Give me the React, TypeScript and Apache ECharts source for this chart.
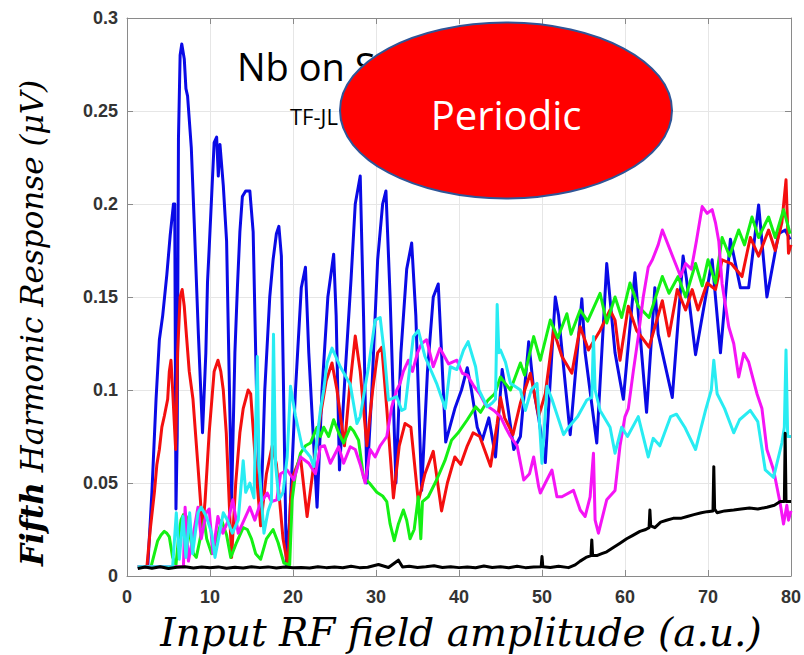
import React, { useEffect, useRef } from "react";
import * as echarts from "echarts";

const xTicks = [0, 10, 20, 30, 40, 50, 60, 70, 80];
const yTicks = [0, 0.05, 0.1, 0.15, 0.2, 0.25, 0.3];

const blueData: [number, number][] = [
  [1.3, 0.005], [2.5, 0.005], [3.0, 0.045], [3.5, 0.095], [3.9, 0.127], [4.3, 0.14], [4.8, 0.162], [5.2, 0.183], [5.6, 0.2], [5.75, 0.2], [5.9, 0.036], [6.05, 0.075], [6.2, 0.235], [6.4, 0.28], [6.6, 0.286], [6.9, 0.278], [7.1, 0.262], [7.3, 0.258], [7.75, 0.23], [8.1, 0.19], [8.6, 0.13], [9.1, 0.077], [9.5, 0.12], [9.7, 0.158], [9.9, 0.176], [10.5, 0.233], [10.8, 0.236], [11.0, 0.215], [11.2, 0.232], [11.6, 0.21], [12.0, 0.18], [12.3, 0.11], [12.6, 0.04], [13.0, 0.12], [13.3, 0.155], [13.6, 0.185], [13.9, 0.204], [14.3, 0.207], [14.8, 0.207], [15.2, 0.185], [15.6, 0.1], [16.1, 0.03], [16.6, 0.1], [17.2, 0.15], [17.6, 0.17], [18.0, 0.184], [18.3, 0.188], [18.6, 0.172], [19.2, 0.006], [19.6, 0.03], [20.3, 0.1], [21.0, 0.155], [21.5, 0.166], [21.9, 0.12], [22.9, 0.037], [23.5, 0.1], [24.2, 0.15], [24.9, 0.173], [25.2, 0.14], [25.6, 0.057], [26.3, 0.11], [27.0, 0.16], [27.5, 0.2], [28.1, 0.215], [28.5, 0.14], [28.9, 0.05], [29.5, 0.1], [30.2, 0.17], [30.8, 0.2], [31.2, 0.207], [31.7, 0.15], [32.4, 0.05], [33.0, 0.12], [33.7, 0.165], [34.3, 0.179], [34.8, 0.14], [35.5, 0.046], [36.2, 0.11], [36.9, 0.15], [37.5, 0.157], [37.9, 0.12], [38.4, 0.072], [39.5, 0.09], [40.3, 0.1], [41.0, 0.112], [41.5, 0.1], [42.2, 0.08], [42.8, 0.073], [43.6, 0.085], [44.4, 0.064], [45.2, 0.111], [45.6, 0.1], [46.6, 0.068], [47.4, 0.075], [48.4, 0.126], [49.0, 0.1], [49.6, 0.085], [50.4, 0.061], [51.6, 0.15], [52.0, 0.14], [53.4, 0.076], [54.8, 0.149], [55.2, 0.12], [56.6, 0.0715], [57.8, 0.168], [58.8, 0.12], [59.8, 0.095], [61.2, 0.163], [62.6, 0.088], [63.6, 0.155], [64.0, 0.13], [65.7, 0.096], [67.0, 0.172], [67.4, 0.16], [68.5, 0.119], [70.5, 0.17], [71.5, 0.12], [72.7, 0.181], [73.9, 0.155], [74.9, 0.155], [76.1, 0.1995], [77.1, 0.15], [78.5, 0.184], [79.3, 0.186], [79.9, 0.181],
];

const redData: [number, number][] = [
  [1.3, 0.005], [2.4, 0.005], [2.8, 0.025], [3.3, 0.045], [3.6, 0.06], [3.9, 0.068], [4.2, 0.08], [4.5, 0.086], [4.9, 0.095], [5.1, 0.11], [5.3, 0.116], [5.5, 0.1], [5.86, 0.068], [6.1, 0.12], [6.4, 0.15], [6.65, 0.154], [6.9, 0.145], [7.15, 0.13], [7.5, 0.11], [7.95, 0.095], [8.55, 0.059], [9.1, 0.025], [9.4, 0.04], [9.9, 0.077], [10.5, 0.11], [10.96, 0.116], [11.3, 0.11], [11.6, 0.1], [11.96, 0.077], [12.6, 0.01], [13.1, 0.05], [13.6, 0.077], [14.0, 0.09], [14.6, 0.1], [14.9, 0.098], [15.5, 0.06], [16.1, 0.027], [16.8, 0.055], [17.5, 0.07], [18.0, 0.06], [18.8, 0.02], [19.4, 0.005], [19.7, 0.04], [20.1, 0.055], [20.9, 0.064], [21.7, 0.032], [22.5, 0.06], [23.3, 0.086], [24.0, 0.105], [24.7, 0.1145], [25.3, 0.1], [26.2, 0.07], [26.8, 0.1], [27.5, 0.129], [28.1, 0.11], [28.9, 0.07], [29.6, 0.1], [30.2, 0.12], [30.7, 0.123], [31.3, 0.09], [32.1, 0.042], [32.8, 0.07], [33.5, 0.082], [34.2, 0.08], [35.1, 0.04], [35.9, 0.055], [36.9, 0.067], [37.9, 0.035], [38.6, 0.05], [39.5, 0.064], [40.2, 0.06], [41.0, 0.07], [41.7, 0.077], [42.5, 0.075], [43.8, 0.059], [44.6, 0.082], [45.0, 0.096], [45.5, 0.085], [46.5, 0.076], [47.4, 0.093], [48.6, 0.109], [49.6, 0.086], [50.4, 0.098], [51.4, 0.132], [52.4, 0.118], [53.6, 0.109], [54.6, 0.134], [55.6, 0.1215], [57.0, 0.132], [58.2, 0.143], [58.8, 0.1376], [59.4, 0.116], [60.4, 0.145], [61.4, 0.132], [62.9, 0.123], [64.5, 0.148], [65.3, 0.129], [66.3, 0.154], [67.3, 0.143], [68.1, 0.154], [68.8, 0.143], [69.9, 0.1575], [70.9, 0.154], [71.7, 0.17], [72.8, 0.168], [74.1, 0.161], [75.1, 0.182], [76.1, 0.172], [77.3, 0.186], [78.1, 0.175], [78.9, 0.19], [79.4, 0.213], [79.7, 0.1735], [80.0, 0.178],
];

const greenData: [number, number][] = [
  [1.3, 0.005], [2.9, 0.005], [3.3, 0.012], [3.7, 0.019], [4.1, 0.022], [4.5, 0.024], [4.8, 0.023], [5.1, 0.021], [5.5, 0.01], [5.9, 0.006], [6.2, 0.02], [6.5, 0.03], [6.8, 0.033], [7.15, 0.032], [7.7, 0.019], [8.0, 0.012], [8.35, 0.01], [8.95, 0.023], [9.3, 0.03], [9.6, 0.02], [10.2, 0.012], [10.8, 0.02], [11.4, 0.03], [12.0, 0.022], [12.5, 0.01], [13.2, 0.018], [14.0, 0.026], [14.5, 0.025], [15.0, 0.02], [15.5, 0.012], [16.1, 0.009], [16.8, 0.02], [17.6, 0.025], [18.2, 0.018], [18.9, 0.007], [19.6, 0.006], [19.9, 0.041], [20.3, 0.055], [20.9, 0.066], [21.5, 0.07], [22.1, 0.0715], [22.9, 0.08], [23.3, 0.075], [23.7, 0.08], [24.3, 0.075], [24.9, 0.084], [25.5, 0.077], [26.1, 0.0715], [26.9, 0.08], [27.3, 0.078], [27.9, 0.073], [28.5, 0.053], [29.2, 0.05], [30.1, 0.045], [30.8, 0.043], [31.3, 0.04], [31.7, 0.028], [32.2, 0.019], [32.7, 0.028], [33.3, 0.0355], [33.7, 0.03], [34.1, 0.02], [34.6, 0.025], [35.1, 0.0426], [35.4, 0.02], [35.6, 0.04], [36.3, 0.0426], [37.3, 0.0516], [38.3, 0.062], [39.1, 0.073], [39.9, 0.077], [41.0, 0.084], [42.0, 0.091], [42.6, 0.088], [43.5, 0.0946], [44.3, 0.098], [45.0, 0.107], [45.5, 0.104], [46.2, 0.1], [47.4, 0.1145], [47.9, 0.108], [49.0, 0.1287], [49.8, 0.116], [51.0, 0.1376], [51.9, 0.128], [53.0, 0.141], [53.5, 0.13], [54.6, 0.143], [55.5, 0.137], [57.0, 0.152], [57.8, 0.136], [58.8, 0.15], [59.6, 0.139], [60.6, 0.1575], [61.6, 0.145], [62.9, 0.139], [64.5, 0.161], [65.3, 0.152], [66.4, 0.161], [67.3, 0.15], [68.5, 0.168], [69.3, 0.156], [70.0, 0.17], [70.9, 0.1575], [71.7, 0.182], [72.6, 0.172], [73.7, 0.186], [74.4, 0.178], [75.3, 0.193], [76.1, 0.182], [77.3, 0.193], [78.1, 0.182], [79.1, 0.197], [79.9, 0.184],
];

const magentaData: [number, number][] = [
  [1.3, 0.005], [6.8, 0.005], [7.0, 0.037], [7.4, 0.008], [7.9, 0.02], [8.55, 0.037], [8.95, 0.02], [9.55, 0.034], [9.9, 0.036], [10.35, 0.012], [10.95, 0.032], [11.55, 0.023], [12.2, 0.03], [12.75, 0.041], [13.4, 0.023], [14.1, 0.03], [14.8, 0.037], [15.4, 0.03], [16.05, 0.039], [16.9, 0.0446], [17.4, 0.04], [18.05, 0.041], [18.5, 0.055], [19.3, 0.057], [20.1, 0.0516], [20.9, 0.064], [21.9, 0.0606], [22.7, 0.055], [23.3, 0.0695], [23.8, 0.07], [24.5, 0.0606], [25.5, 0.0695], [26.1, 0.0606], [26.9, 0.0695], [27.5, 0.068], [28.1, 0.06], [28.7, 0.05], [29.3, 0.068], [29.9, 0.064], [30.5, 0.07], [31.3, 0.075], [31.9, 0.091], [32.5, 0.1], [32.9, 0.1036], [33.3, 0.11], [33.9, 0.116], [34.4, 0.11], [35.0, 0.12], [35.5, 0.125], [36.1, 0.127], [36.9, 0.1125], [37.7, 0.1224], [38.75, 0.114], [39.75, 0.116], [40.4, 0.109], [41.0, 0.108], [41.8, 0.102], [42.5, 0.098], [43.2, 0.092], [44.2, 0.089], [45.0, 0.0857], [45.6, 0.08], [46.2, 0.075], [47.0, 0.07], [47.8, 0.0516], [48.5, 0.055], [49.0, 0.064], [49.6, 0.048], [49.8, 0.0446], [50.4, 0.05], [51.2, 0.057], [51.8, 0.0426], [52.4, 0.0426], [53.8, 0.046], [54.6, 0.0355], [55.2, 0.032], [55.8, 0.0426], [56.2, 0.066], [56.4, 0.03], [56.8, 0.023], [57.8, 0.041], [58.8, 0.046], [59.4, 0.07], [60.0, 0.0857], [60.4, 0.09], [61.0, 0.11], [61.6, 0.1287], [62.2, 0.15], [62.8, 0.166], [63.3, 0.17], [64.0, 0.178], [64.5, 0.186], [65.2, 0.178], [65.9, 0.17], [66.7, 0.161], [67.3, 0.168], [68.0, 0.165], [68.6, 0.18], [69.3, 0.1986], [69.9, 0.195], [70.5, 0.197], [70.9, 0.19], [71.3, 0.18], [71.7, 0.157], [72.5, 0.134], [73.1, 0.125], [73.7, 0.107], [74.3, 0.1197], [74.9, 0.115], [75.9, 0.098], [76.5, 0.09], [77.1, 0.068], [77.9, 0.057], [78.7, 0.039], [79.1, 0.028], [79.5, 0.038], [79.7, 0.03], [80.0, 0.035],
];

const cyanData: [number, number][] = [
  [1.3, 0.005], [5.5, 0.005], [5.94, 0.034], [6.3, 0.009], [6.75, 0.032], [7.1, 0.01], [7.55, 0.034], [7.9, 0.012], [8.55, 0.034], [8.95, 0.037], [9.55, 0.032], [10.2, 0.023], [10.6, 0.01], [11.15, 0.023], [11.6, 0.034], [12.1, 0.03], [12.7, 0.023], [13.4, 0.03], [14.0, 0.062], [14.3, 0.045], [14.8, 0.05], [15.3, 0.042], [15.7, 0.118], [15.9, 0.06], [16.5, 0.023], [17.0, 0.035], [17.4, 0.04], [17.65, 0.13], [17.9, 0.06], [18.3, 0.041], [18.8, 0.045], [19.3, 0.064], [19.7, 0.102], [20.3, 0.086], [21.1, 0.0695], [22.1, 0.064], [22.5, 0.0588], [23.3, 0.089], [23.7, 0.1], [24.1, 0.1145], [24.7, 0.1225], [25.7, 0.1125], [26.9, 0.103], [27.7, 0.082], [28.1, 0.0857], [29.1, 0.1125], [29.9, 0.1376], [30.5, 0.139], [31.0, 0.12], [31.5, 0.0946], [32.5, 0.0964], [33.1, 0.089], [33.5, 0.09], [34.5, 0.1287], [35.1, 0.132], [35.9, 0.118], [37.3, 0.1036], [38.35, 0.09], [38.95, 0.1125], [39.75, 0.111], [40.55, 0.1215], [41.1, 0.126], [42.0, 0.1125], [42.4, 0.1], [43.4, 0.091], [44.0, 0.093], [44.4, 0.095], [44.6, 0.146], [44.8, 0.12], [45.0, 0.1215], [45.6, 0.115], [46.2, 0.1036], [47.4, 0.1], [48.0, 0.089], [48.7, 0.1], [49.4, 0.1036], [50.0, 0.0606], [50.6, 0.102], [51.2, 0.095], [52.6, 0.076], [53.2, 0.08], [54.3, 0.0857], [55.4, 0.0946], [56.0, 0.096], [56.2, 0.1287], [56.4, 0.1], [57.0, 0.089], [58.2, 0.08], [58.8, 0.066], [59.6, 0.08], [60.3, 0.075], [61.6, 0.0857], [62.8, 0.064], [63.4, 0.074], [64.2, 0.07], [65.5, 0.0857], [66.2, 0.087], [67.2, 0.08], [68.5, 0.068], [69.7, 0.089], [70.4, 0.1], [70.7, 0.116], [71.1, 0.098], [72.0, 0.09], [73.1, 0.077], [73.8, 0.084], [75.1, 0.089], [76.0, 0.083], [76.9, 0.057], [77.9, 0.053], [78.9, 0.0715], [79.2, 0.08], [79.4, 0.1215], [79.6, 0.075], [80.0, 0.075],
];

const blackData: [number, number][] = [
  [1.3, 0.004], [2.2, 0.0048], [3, 0.0042], [4, 0.005], [5, 0.004], [6, 0.0047], [7, 0.005], [8, 0.0043], [9, 0.0048], [10, 0.0044], [11, 0.0049], [12, 0.0042], [13, 0.0047], [14, 0.0043], [15, 0.005], [16, 0.0045], [17, 0.0049], [18, 0.0043], [19, 0.0048], [20, 0.0044], [21, 0.0046], [22, 0.0043], [23, 0.005], [24, 0.0045], [25, 0.0048], [26, 0.0044], [27, 0.0052], [28, 0.0045], [29, 0.0047], [30.3, 0.0062], [31.5, 0.0046], [32.7, 0.0085], [33.2, 0.0048], [34, 0.0052], [35, 0.0046], [36, 0.005], [37, 0.0055], [38, 0.0046], [39, 0.005], [40, 0.0045], [41, 0.0049], [42, 0.0044], [43, 0.0054], [44, 0.0046], [45, 0.005], [46, 0.0044], [47, 0.0052], [48, 0.0045], [49, 0.0048], [49.9, 0.005], [50.0, 0.0105], [50.1, 0.005], [51, 0.0046], [52, 0.0052], [53.2, 0.0045], [54, 0.006], [54.6, 0.008], [55.3, 0.01], [55.9, 0.011], [56.0, 0.0194], [56.1, 0.011], [56.6, 0.011], [57.2, 0.012], [57.8, 0.013], [58.5, 0.015], [59.4, 0.0176], [60.2, 0.02], [61, 0.022], [61.8, 0.024], [62.5, 0.025], [62.9, 0.026], [63.0, 0.0355], [63.1, 0.027], [63.6, 0.026], [64.3, 0.029], [65, 0.03], [65.8, 0.031], [66.7, 0.031], [67.5, 0.032], [68.3, 0.033], [69.2, 0.034], [69.9, 0.0346], [70.6, 0.035], [70.7, 0.0588], [70.8, 0.036], [71.1, 0.034], [72, 0.035], [73.1, 0.0355], [74, 0.036], [75, 0.0365], [76, 0.036], [77.1, 0.037], [78, 0.038], [78.7, 0.04], [79.2, 0.04], [79.3, 0.0767], [79.4, 0.04], [80, 0.04],
];

const seriesList = [
  { name: "blue", color: "#0a0ae6", data: blueData, width: 3 },
  { name: "red", color: "#f40f0f", data: redData, width: 3 },
  { name: "green", color: "#14f014", data: greenData, width: 3 },
  { name: "magenta", color: "#f514f5", data: magentaData, width: 3 },
  { name: "cyan", color: "#28ecf2", data: cyanData, width: 3 },
  { name: "black", color: "#000000", data: blackData, width: 3 },
];

const axisColor = "#8a8a8a";
const labelStyle = {
  fontFamily: "'Liberation Sans', Arial, sans-serif",
  fontWeight: "bold" as const,
  fontSize: 18,
  color: "#333333",
};

export default function App() {
  const ref = useRef<HTMLDivElement>(null);
  useEffect(() => {
    if (!ref.current) return;
    const chart = echarts.init(ref.current, undefined, { renderer: "svg" });
    const option: any = {
      animation: false,
      backgroundColor: "#ffffff",
      grid: { left: 127, right: 13, top: 18, bottom: 79, containLabel: false },
      xAxis: [
        {
          type: "value",
          min: xTicks[0],
          max: xTicks[xTicks.length - 1],
          interval: 10,
          position: "bottom",
          axisLine: { show: true, onZero: false, lineStyle: { color: axisColor, width: 1 } },
          axisTick: { show: true, inside: true, length: 6, lineStyle: { color: axisColor } },
          splitLine: { show: true, lineStyle: { color: "#e6e6e6", width: 1 } },
          axisLabel: { ...labelStyle, margin: 12 },
        },
        {
          type: "value",
          min: xTicks[0],
          max: xTicks[xTicks.length - 1],
          interval: 10,
          position: "top",
          axisLine: { show: true, onZero: false, lineStyle: { color: axisColor, width: 1 } },
          axisTick: { show: true, inside: true, length: 6, lineStyle: { color: axisColor } },
          splitLine: { show: false },
          axisLabel: { show: false },
        },
      ],
      yAxis: [
        {
          type: "value",
          min: yTicks[0],
          max: yTicks[yTicks.length - 1],
          interval: 0.05,
          position: "left",
          axisLine: { show: true, onZero: false, lineStyle: { color: axisColor, width: 1 } },
          axisTick: { show: true, inside: true, length: 6, lineStyle: { color: axisColor } },
          splitLine: { show: true, lineStyle: { color: "#e6e6e6", width: 1 } },
          axisLabel: { ...labelStyle, margin: 9, formatter: (v: number) => String(Math.round(v * 100) / 100) },
        },
        {
          type: "value",
          min: yTicks[0],
          max: yTicks[yTicks.length - 1],
          interval: 0.05,
          position: "right",
          axisLine: { show: true, onZero: false, lineStyle: { color: axisColor, width: 1 } },
          axisTick: { show: true, inside: true, length: 6, lineStyle: { color: axisColor } },
          splitLine: { show: false },
          axisLabel: { show: false },
        },
      ],
      series: seriesList.map((s, i) => ({
        name: s.name,
        type: "line",
        xAxisIndex: 0,
        yAxisIndex: 0,
        data: s.data,
        showSymbol: false,
        symbol: "none",
        z: 2 + i,
        lineStyle: { color: s.color, width: s.width, join: "round" },
        itemStyle: { color: s.color },
      })),
      graphic: [
        {
          type: "text",
          x: 237,
          y: 66,
          z: 50,
          style: {
            text: "Nb on Sapphire (TF-JL)",
            font: "38px 'Open Sans', sans-serif",
            lineHeight: 30,
            fill: "#000000",
            textAlign: "left",
            textVerticalAlign: "middle",
          },
        },
        {
          type: "text",
          x: 290,
          y: 116,
          z: 50,
          style: {
            text: "TF-JL",
            font: "22px 'Open Sans', sans-serif",
            fill: "#000000",
            textAlign: "left",
            textVerticalAlign: "middle",
          },
        },
        {
          type: "ellipse",
          z: 60,
          shape: { cx: 506, cy: 110.5, rx: 166, ry: 88 },
          style: { fill: "#ff0000", stroke: "#2f5597", lineWidth: 2 },
        },
        {
          type: "text",
          x: 506,
          y: 114,
          z: 70,
          style: {
            text: "Periodic",
            font: "40px 'Open Sans', sans-serif",
            lineHeight: 32,
            fill: "#ffffff",
            textAlign: "center",
            textVerticalAlign: "middle",
          },
        },
        {
          type: "text",
          x: 461,
          y: 632,
          z: 50,
          style: {
            text: "Input RF field amplitude (a.u.)",
            font: "italic 39px 'DejaVu Serif', serif",
            fill: "#000000",
            textAlign: "center",
            textVerticalAlign: "middle",
          },
        },
        {
          type: "text",
          x: 32,
          y: 323,
          z: 50,
          rotation: Math.PI / 2,
          style: {
            text: "{b|Fifth}{i|\u00A0Harmonic Response (μV)}",
            textAlign: "center",
            textVerticalAlign: "middle",
            fill: "#000000",
            rich: {
              b: { fontFamily: "'DejaVu Serif', serif", fontStyle: "italic", fontWeight: "bold", fontSize: 31, fill: "#000000" },
              i: { fontFamily: "'DejaVu Serif', serif", fontStyle: "italic", fontSize: 31, fill: "#000000" },
            },
          },
        },
      ],
    };
    chart.setOption(option);
    return () => chart.dispose();
  }, []);
  return <div ref={ref} style={{ position: "fixed", left: 0, top: 0, width: 804, height: 655 }} />;
}
